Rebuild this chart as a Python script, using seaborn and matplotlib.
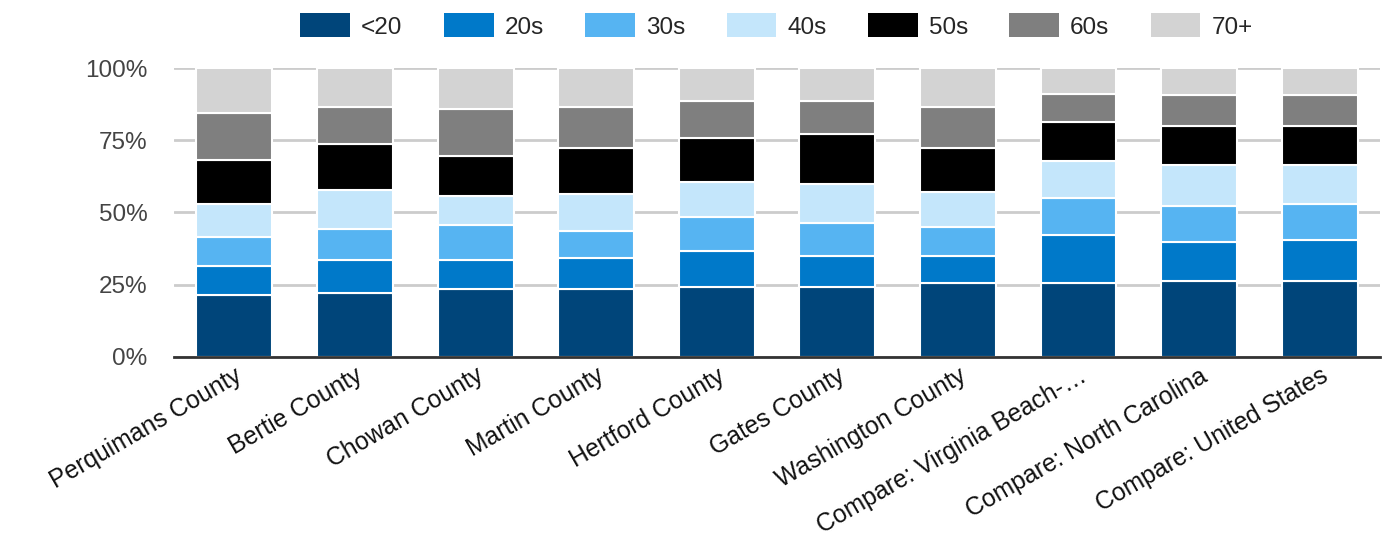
import matplotlib
matplotlib.use("Agg")
import matplotlib.pyplot as plt
from matplotlib.patches import Patch
import numpy as np
import pandas as pd
import seaborn as sns

regions = [
    "Perquimans County", "Bertie County", "Chowan County", "Martin County",
    "Hertford County", "Gates County", "Washington County",
    "Compare: Virginia Beach-\u2026", "Compare: North Carolina",
    "Compare: United States",
]
age_groups = ["<20", "20s", "30s", "40s", "50s", "60s", "70+"]

# Share of population (%) in each age group, per region
under_20 = [21.4, 22.1, 23.5, 23.5, 24.2, 24.2, 25.6, 25.6, 26.2, 26.2]
age_20s = [10.0, 11.4, 10.0, 10.8, 12.6, 10.7, 9.4, 16.6, 13.5, 14.2]
age_30s = [10.1, 10.8, 12.1, 9.4, 11.5, 11.6, 10.1, 12.9, 12.7, 12.7]
age_40s = [11.4, 13.5, 10.1, 12.7, 12.2, 13.3, 12.0, 12.8, 14.1, 13.4]
age_50s = [15.4, 16.0, 14.0, 16.1, 15.4, 17.3, 15.4, 13.4, 13.4, 13.4]
age_60s = [16.2, 12.8, 16.2, 14.1, 12.8, 11.6, 14.1, 9.9, 10.7, 10.7]
age_70p = [15.5, 13.4, 14.1, 13.4, 11.3, 11.3, 13.4, 8.8, 9.4, 9.4]

colors = ["#00457A", "#0079C9", "#56B4F2", "#C4E6FB", "#000000", "#7F7F7F", "#D3D3D3"]

series = [under_20, age_20s, age_30s, age_40s, age_50s, age_60s, age_70p]
df = pd.DataFrame({g: v for g, v in zip(age_groups, series)})
df["region"] = regions

sns.set_theme(style="white")
plt.rcParams["font.family"] = ["Liberation Sans", "DejaVu Sans"]

fig = plt.figure(figsize=(13.99, 5.37), dpi=100)
ax = fig.add_axes([0.1244, 0.3358, 0.862, 0.537])

bottom = np.zeros(len(regions))
for g, c in zip(age_groups, colors):
    sns.barplot(data=df, x="region", y=g, color=c, saturation=1, bottom=bottom,
                width=0.63, edgecolor="white", linewidth=1.5, ax=ax, zorder=3)
    bottom = bottom + df[g].to_numpy()

ax.set_xlim(-0.5, 9.5)
ax.set_ylim(0, 100)
ax.set_yticks([0, 25, 50, 75, 100])
ax.set_yticklabels(["0%", "25%", "50%", "75%", "100%"])
ax.yaxis.grid(True, color="#CCCCCC", linewidth=2, zorder=0)
ax.set_axisbelow(True)
for s in ["top", "right", "left"]:
    ax.spines[s].set_visible(False)
ax.spines["bottom"].set_color("#333333")
ax.spines["bottom"].set_linewidth(2)
ax.spines["bottom"].set_zorder(4)
ax.set_xlabel("")
ax.set_ylabel("")
ax.tick_params(axis="y", length=0, pad=19, labelsize=17.5, labelcolor="#444444")
ax.tick_params(axis="x", length=0, pad=5, labelsize=17.8, labelcolor="#111111")
plt.setp(ax.get_xticklabels(), rotation=30, ha="right", rotation_mode="anchor")

handles = [Patch(facecolor=c, edgecolor="none", label=g) for g, c in zip(age_groups, colors)]
fig.legend(handles=handles, loc="upper center", bbox_to_anchor=(0.555, 1.0), ncol=7,
           frameon=False, fontsize=17.5, handlelength=2.05, handleheight=1.15,
           handletextpad=0.45, columnspacing=1.7, borderaxespad=0.15)

fig.savefig("out.png", dpi=100, facecolor="white")
